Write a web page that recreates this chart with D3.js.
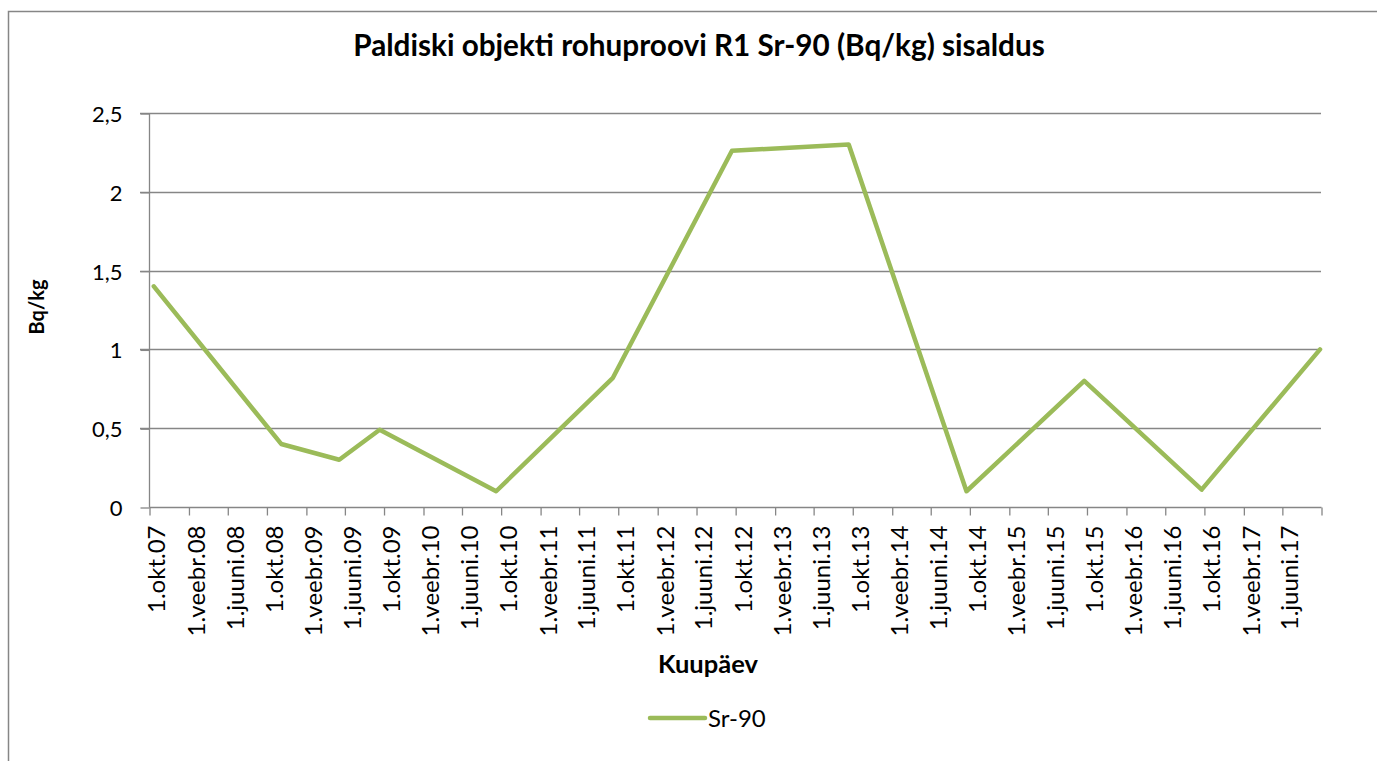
<!DOCTYPE html>
<html>
<head>
<meta charset="utf-8">
<script src="https://cdn.jsdelivr.net/npm/d3@7"></script>
<style>
    body { margin: 0; background: #fff; }
    svg { display: block; font-family: Lato, "Open Sans", sans-serif; }
</style>
</head>
<body>
<script>
// Sample dates and Sr-90 values
let sampleDates = ["2007-10-16", "2008-11-16", "2009-05-16", "2009-09-19", "2010-09-17", "2011-09-16",
    "2012-09-21", "2013-09-20", "2014-09-22", "2015-09-24", "2016-09-24", "2017-09-28"];
let sr90 = [1.4, 0.4, 0.3, 0.49, 0.1, 0.82, 2.26, 2.3, 0.1, 0.8, 0.11, 1.0];

// Tick labels on the date axis, one every 4 months
let tickLabels = ["1.okt.07", "1.veebr.08", "1.juuni.08", "1.okt.08", "1.veebr.09", "1.juuni.09",
    "1.okt.09", "1.veebr.10", "1.juuni.10", "1.okt.10", "1.veebr.11", "1.juuni.11",
    "1.okt.11", "1.veebr.12", "1.juuni.12", "1.okt.12", "1.veebr.13", "1.juuni.13",
    "1.okt.13", "1.veebr.14", "1.juuni.14", "1.okt.14", "1.veebr.15", "1.juuni.15",
    "1.okt.15", "1.veebr.16", "1.juuni.16", "1.okt.16", "1.veebr.17", "1.juuni.17"];
let yTicks = [0, 0.5, 1, 1.5, 2, 2.5];

let parse = d3.timeParse("%Y-%m-%d");
let data = sampleDates.map((d, i) => ({ date: parse(d), value: sr90[i] }));

let width = 1377, height = 761;
let plot = { left: 149, right: 1321, top: 113, bottom: 507 };
let grey = "#868686";
let green = "#9BBB59";
let font = "Lato, 'Open Sans', sans-serif";

let svg = d3.select("body").append("svg")
    .attr("width", width)
    .attr("height", height);

// Chart frame (only top and left edges are inside the picture)
svg.append("path")
    .attr("d", `M8.5,${height} V11.5 H${width}`)
    .attr("fill", "none")
    .attr("stroke", grey)
    .attr("stroke-width", 1.5);

let start = new Date(2007, 9, 1), end = new Date(2017, 9, 1);
let x = d3.scaleTime([start, end], [plot.left, plot.right]);
let y = d3.scaleLinear([0, 2.5], [plot.bottom, plot.top]);
let tickDates = d3.timeMonth.range(start, d3.timeDay.offset(end, 1), 4);

// Gridlines
svg.append("g")
    .selectAll("line")
    .data(yTicks.filter(d => d > 0))
    .join("line")
    .attr("x1", plot.left - 9)
    .attr("x2", plot.right)
    .attr("y1", d => Math.round(y(d)) + 0.5)
    .attr("y2", d => Math.round(y(d)) + 0.5)
    .attr("stroke", grey)
    .attr("stroke-width", 1.3);

// Y axis
let yAxis = svg.append("g")
    .attr("transform", `translate(${plot.left + 0.5},0.5)`)
    .call(d3.axisLeft(y).tickValues(yTicks).tickSize(9).tickFormat(d => String(d).replace(".", ",")));
yAxis.attr("font-family", font);
yAxis.select(".domain").attr("stroke", grey).attr("stroke-width", 1.3).attr("d", `M0,${plot.top}V${plot.bottom}`);
yAxis.selectAll(".tick line").attr("stroke", grey).attr("stroke-width", 1.3);
yAxis.selectAll(".tick text")
    .attr("x", -27)
    .attr("dy", "0.36em")
    .attr("fill", "#000")
    .style("font-size", "22px");

// X axis
let xAxis = svg.append("g")
    .attr("transform", `translate(0.5,${plot.bottom + 0.5})`)
    .call(d3.axisBottom(x).tickValues(tickDates).tickSize(8).tickFormat((d, i) => tickLabels[i] || ""));
xAxis.attr("font-family", font);
xAxis.select(".domain").attr("stroke", grey).attr("stroke-width", 1.3).attr("d", `M${plot.left},0H${plot.right}`);
xAxis.selectAll(".tick line").attr("stroke", grey).attr("stroke-width", 1.3);
xAxis.selectAll(".tick text")
    .attr("transform", "rotate(-90)")
    .attr("text-anchor", "end")
    .attr("x", -18)
    .attr("y", 7)
    .attr("dy", "0.35em")
    .attr("fill", "#000")
    .style("font-size", "24px");

// Sr-90 line
svg.append("path")
    .datum(data)
    .attr("fill", "none")
    .attr("stroke", green)
    .attr("stroke-width", 4.5)
    .attr("stroke-linejoin", "round")
    .attr("stroke-linecap", "round")
    .attr("d", d3.line(d => x(d.date), d => y(d.value)));

// Title
let title = svg.append("text")
    .attr("x", 699)
    .attr("y", 56)
    .attr("text-anchor", "middle")
    .style("font-weight", "bold")
    .style("font-size", "22px")
    .text("Paldiski objekti rohuproovi R1 Sr-90 (Bq/kg) sisaldus");
let tw = title.node().getComputedTextLength();
title.style("font-size", (22 * 692 / tw) + "px");

// Axis titles
svg.append("text")
    .attr("transform", "translate(44,307) rotate(-90)")
    .attr("text-anchor", "middle")
    .style("font-weight", "bold")
    .style("font-size", "20px")
    .text("Bq/kg");

svg.append("text")
    .attr("x", 708)
    .attr("y", 673)
    .attr("text-anchor", "middle")
    .style("font-weight", "bold")
    .style("font-size", "25.5px")
    .text("Kuupäev");

// Legend
let legend = svg.append("g").attr("transform", "translate(650,718)");
legend.append("line")
    .attr("x1", 0).attr("x2", 55)
    .attr("stroke", green)
    .attr("stroke-width", 4.5)
    .attr("stroke-linecap", "round");
legend.append("text")
    .attr("x", 58)
    .attr("y", 9)
    .style("font-size", "24px")
    .text("Sr-90");
</script>
</body>
</html>
